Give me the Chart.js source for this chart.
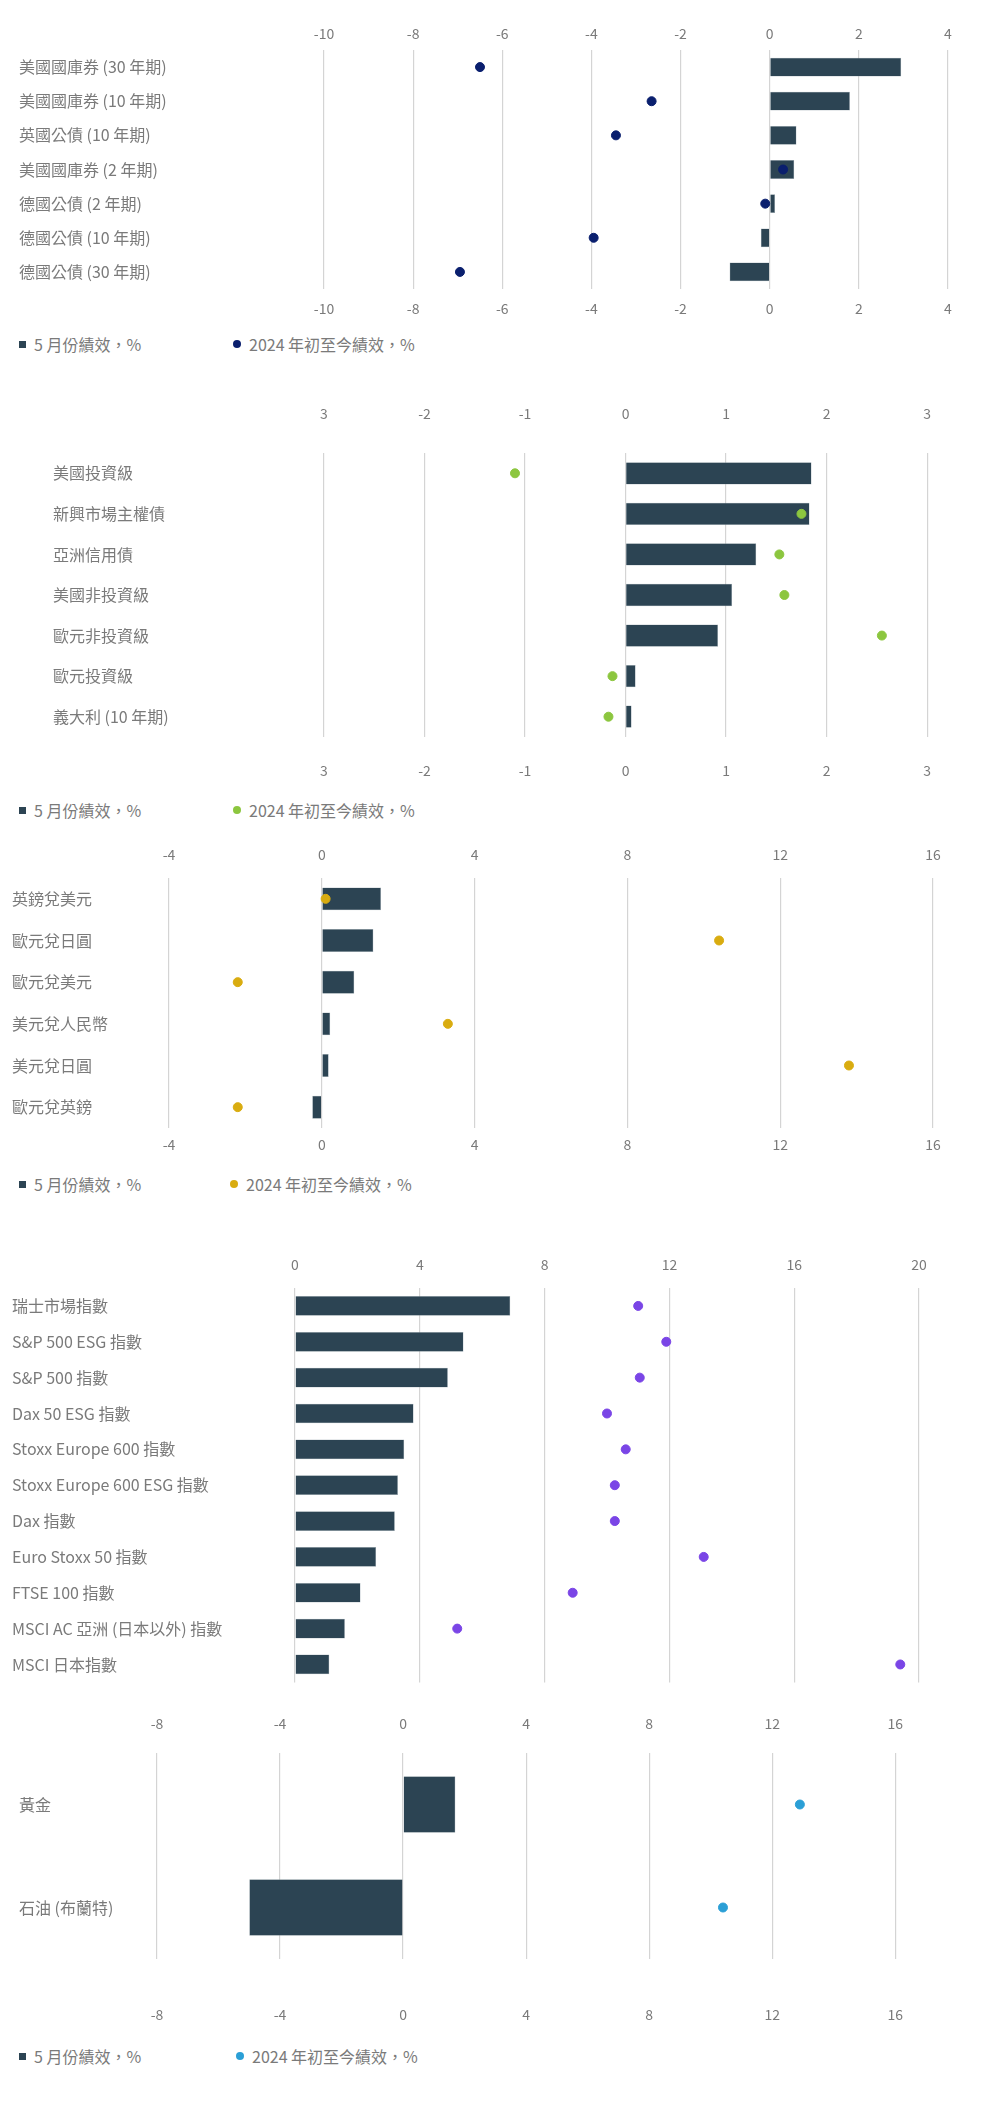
<!DOCTYPE html>
<html><head><meta charset="utf-8">
<script src="https://cdn.jsdelivr.net/npm/chart.js@4"></script>
<style>
body{margin:0;width:1000px;height:2106px;background:#fff;position:relative;font-family:"Noto Sans CJK TC","Noto Sans",sans-serif;}
.c{position:absolute}
.lg{position:absolute;font-size:16px;color:#7a7a7a;display:flex;align-items:center;white-space:nowrap}
.sq{display:inline-block;width:7px;height:7px;background:#2c4453;margin-right:8px}
.dt{display:inline-block;width:8px;height:8px;border-radius:50%;margin-right:8px}
</style></head><body>
<script>
const LEG_BAR = "5 月份績效，%";
const LEG_DOT = "2024 年初至今績效，%";

const cats1 = ["美國國庫券 (30 年期)","美國國庫券 (10 年期)","英國公債 (10 年期)","美國國庫券 (2 年期)","德國公債 (2 年期)","德國公債 (10 年期)","德國公債 (30 年期)"];
const may1 = [2.95, 1.8, 0.6, 0.55, 0.12, -0.2, -0.9];
const ytd1 = [-6.5, -2.65, -3.45, 0.3, -0.1, -3.95, -6.95];
const ticks1 = [-10,-8,-6,-4,-2,0,2,4];

const cats2 = ["美國投資級","新興市場主權債","亞洲信用債","美國非投資級","歐元非投資級","歐元投資級","義大利 (10 年期)"];
const may2 = [1.85, 1.83, 1.3, 1.06, 0.92, 0.1, 0.06];
const ytd2 = [-1.1, 1.75, 1.53, 1.58, 2.55, -0.13, -0.17];
const tickLabels2 = {"-3":"3","-2":"-2","-1":"-1","0":"0","1":"1","2":"2","3":"3"};

const cats3 = ["英鎊兌美元","歐元兌日圓","歐元兌美元","美元兌人民幣","美元兌日圓","歐元兌英鎊"];
const may3 = [1.55, 1.35, 0.85, 0.22, 0.18, -0.25];
const ytd3 = [0.1, 10.4, -2.2, 3.3, 13.8, -2.2];

const cats4 = ["瑞士市場指數","S&P 500 ESG 指數","S&P 500 指數","Dax 50 ESG 指數","Stoxx Europe 600 指數","Stoxx Europe 600 ESG 指數","Dax 指數","Euro Stoxx 50 指數","FTSE 100 指數","MSCI AC 亞洲 (日本以外) 指數","MSCI 日本指數"];
const may4 = [6.9, 5.4, 4.9, 3.8, 3.5, 3.3, 3.2, 2.6, 2.1, 1.6, 1.1];
const ytd4 = [11, 11.9, 11.05, 10, 10.6, 10.25, 10.25, 13.1, 8.9, 5.2, 19.4];

const cats5 = ["黃金","石油 (布蘭特)"];
const may5 = [1.7, -5.0];
const ytd5 = [12.9, 10.4];

const GREY="#7a7a7a", BAR="#2c4453", FONT='"Noto Sans CJK TC","Noto Sans",sans-serif';

function make(p){
  const W = p.right + 30 - p.left, H = p.h;
  const cv = document.createElement('canvas');
  cv.className='c'; cv.style.left=p.left+'px'; cv.style.top=p.top+'px';
  cv.style.width=W+'px'; cv.style.height=H+'px';
  document.body.appendChild(cv);
  const cb = p.cb || (v=>String(v));
  const xs = {
    type:'linear', position:'top', min:p.min, max:p.max,
    afterBuildTicks: s=>{ s.ticks = p.ticks.map(v=>({value:v})); },
    afterFit: s=>{ s.height=p.th; },
    grid:{color:'#d4d4d4', lineWidth:1.2, drawTicks:false}, border:{display:false},
    ticks:{color:GREY, font:{family:FONT,size:14}, padding:p.tpad, callback:cb}
  };
  const scales = {x:xs,
    y:{type:'category', position:'left', grid:{display:false}, border:{display:false},
       afterFit: s=>{ s.width = p.yw; },
       ticks:{color:GREY, font:{family:FONT,size:16}, crossAlign:'far', padding:0}}};
  if(p.bottom){
    scales.x2 = {type:'linear', position:'bottom', min:p.min, max:p.max,
      afterBuildTicks: s=>{ s.ticks = p.ticks.map(v=>({value:v})); },
      afterFit: s=>{ s.height=p.bh; },
      grid:{display:false, drawTicks:false}, border:{display:false},
      ticks:{color:GREY, font:{family:FONT,size:14}, padding:p.bpad, callback:cb}};
  }
  new Chart(cv, {
    data:{labels:p.cats, datasets:[
      {type:'line', data:p.ytd, showLine:false, pointRadius:4.5, pointHoverRadius:4.5, pointBackgroundColor:p.dot, pointBorderColor:p.dot, xAxisID:'x', order:0},
      {type:'bar', data:p.may, backgroundColor:BAR, borderColor:'#9aa7b0', borderWidth:0.5, barPercentage:0.55, categoryPercentage:1, xAxisID:'x', order:1}
    ]},
    options:{indexAxis:'y', responsive:false, animation:false, devicePixelRatio:1,
      layout:{padding:{left:0,right:30,top:0,bottom:0}},
      plugins:{legend:{display:false}, tooltip:{enabled:false}},
      scales}
  });
  if(p.legY){
    const a=document.createElement('div'); a.className='lg'; a.style.left='19px'; a.style.top=(p.legY-11)+'px';
    a.innerHTML='<span class="sq"></span>'+LEG_BAR; document.body.appendChild(a);
    const b=document.createElement('div'); b.className='lg'; b.style.left=p.legX2+'px'; b.style.top=(p.legY-11)+'px';
    b.innerHTML='<span class="dt" style="background:'+p.dot+'"></span>'+LEG_DOT; document.body.appendChild(b);
  }
}
make({left:19, right:948, top:20, h:302, th:30, tpad:8, bh:33, bpad:11, yw:305, min:-10, max:4, ticks:ticks1, cats:cats1, may:may1, ytd:ytd1, dot:'#0a1f6e', bottom:true, legY:343, legX2:233});
make({left:53, right:932, top:400, h:384, th:53, tpad:31, bh:47, bpad:25, yw:271, min:-3, max:3, ticks:[-3,-2,-1,0,1,2,3], cb:v=>tickLabels2[String(v)], cats:cats2, may:may2, ytd:ytd2, dot:'#8cc63f', bottom:true, legY:809, legX2:233});
make({left:12, right:933, top:841, h:317, th:37, tpad:15, bh:30, bpad:8, yw:157, min:-4, max:16, ticks:[-4,0,4,8,12,16], cats:cats3, may:may3, ytd:ytd3, dot:'#d9ac10', bottom:true, legY:1183, legX2:230});
make({left:12, right:919, top:1251, h:441, th:37, tpad:15, yw:283, min:0, max:20, ticks:[0,4,8,12,16,20], cats:cats4, may:may4, ytd:ytd4, dot:'#7a45e6', bottom:false});
make({left:19, right:920, top:1710, h:318, th:43, tpad:21, bh:69, bpad:47, yw:138, min:-8, max:16, ticks:[-8,-4,0,4,8,12,16], cats:cats5, may:may5, ytd:ytd5, dot:'#2b9fd6', bottom:true, legY:2055, legX2:236});
</script>
</body></html>
